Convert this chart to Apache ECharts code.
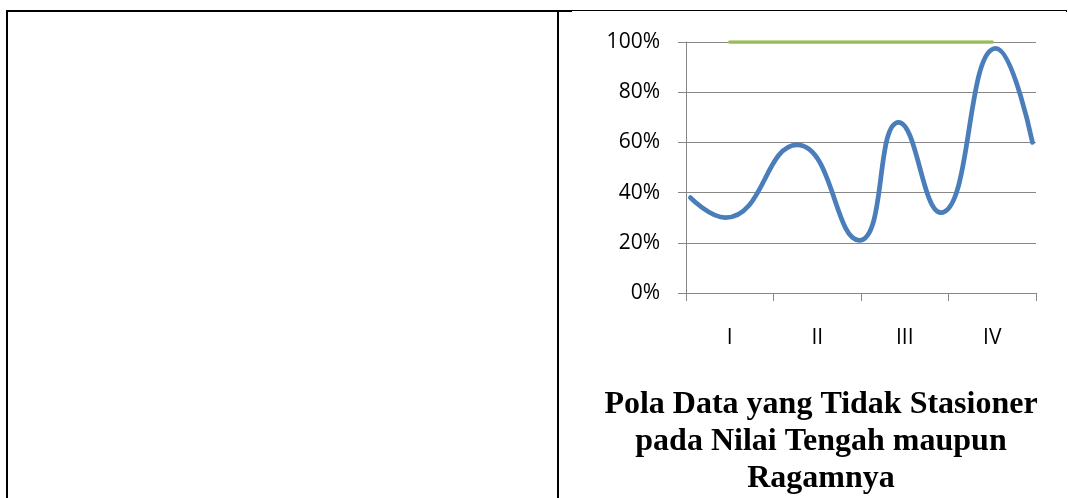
<!DOCTYPE html>
<html>
<head>
<meta charset="utf-8">
<script src="https://cdn.jsdelivr.net/npm/echarts@6/dist/echarts.min.js"></script>
<style>
  html, body { margin: 0; padding: 0; background: #ffffff; }
  #chart { width: 1068px; height: 498px; }
</style>
</head>
<body>
<div id="chart"></div>
<script>
// Quarter labels on the category axis
const categories = ['I', 'II', 'III', 'IV'];

// Constant reference level (green), one value per quarter
const levelValues = [1, 1, 1, 1];

// Observed series (blue): position along the quarters (0..4) and value
const seriesX = [0.05, 0.45, 1.27, 1.98, 2.43, 2.91, 3.54, 3.96];
const seriesY = [0.38, 0.30, 0.59, 0.21, 0.68, 0.32, 0.975, 0.60];

// Y-axis tick labels
const yTickLabels = ['0%', '20%', '40%', '60%', '80%', '100%'];

const titleLines = ['Pola Data yang Tidak Stasioner', 'pada Nilai Tengah maupun', 'Ragamnya'];

const gridColor = '#878787';
const labelFont = 'Open Sans';

const chart = echarts.init(document.getElementById('chart'), null, { renderer: 'canvas' });

chart.setOption({
  backgroundColor: '#ffffff',
  animation: false,
  title: {
    text: titleLines.join('\n'),
    left: 816,
    top: 381,
    textAlign: 'center',
    textStyle: {
      fontFamily: 'Liberation Serif',
      fontWeight: 'bold',
      fontSize: 32,
      lineHeight: 37,
      color: '#000000'
    }
  },
  grid: { left: 686, top: 42, width: 350, height: 251, containLabel: false },
  xAxis: [
    {
      type: 'category',
      data: categories,
      boundaryGap: true,
      axisLine: { show: true, lineStyle: { color: gridColor, width: 1 } },
      axisTick: { show: true, length: 8, inside: false, lineStyle: { color: gridColor, width: 1 } },
      axisLabel: { margin: 35, fontFamily: labelFont, fontSize: 21, color: '#000000' },
      splitLine: { show: false }
    },
    {
      type: 'value',
      min: 0,
      max: 4,
      show: false
    }
  ],
  yAxis: {
    type: 'value',
    min: 0,
    max: 1,
    interval: 0.2,
    axisLine: { show: true, lineStyle: { color: gridColor, width: 1 } },
    axisTick: { show: true, length: 8, inside: false, lineStyle: { color: gridColor, width: 1 } },
    axisLabel: {
      margin: 26,
      fontFamily: labelFont,
      fontSize: 21,
      color: '#000000',
      formatter: function (v) { return yTickLabels[Math.round(v / 0.2)]; }
    },
    splitLine: { show: true, lineStyle: { color: gridColor, width: 1 } }
  },
  series: [
    {
      type: 'line',
      xAxisIndex: 0,
      data: levelValues,
      showSymbol: false,
      lineStyle: { color: '#9BBB59', width: 3.3, cap: 'round' },
      z: 2
    },
    {
      type: 'line',
      xAxisIndex: 1,
      data: seriesX.map((x, i) => [x, seriesY[i]]),
      smooth: 0.5,
      showSymbol: false,
      clip: false,
      lineStyle: { color: '#4A7EBB', width: 4.75, cap: 'round', join: 'round' },
      z: 3
    }
  ],
  graphic: [
    // table borders
    { type: 'rect', shape: { x: 6, y: 10, width: 566, height: 2 }, style: { fill: '#000000' } },
    { type: 'rect', shape: { x: 572, y: 10, width: 495, height: 1 }, style: { fill: '#000000' } },
    { type: 'rect', shape: { x: 6, y: 10, width: 2, height: 488 }, style: { fill: '#000000' } },
    { type: 'rect', shape: { x: 557, y: 10, width: 2, height: 488 }, style: { fill: '#000000' } },
    { type: 'rect', shape: { x: 1066, y: 10, width: 1, height: 2 }, style: { fill: '#000000' } }
  ]
});
</script>
</body>
</html>
